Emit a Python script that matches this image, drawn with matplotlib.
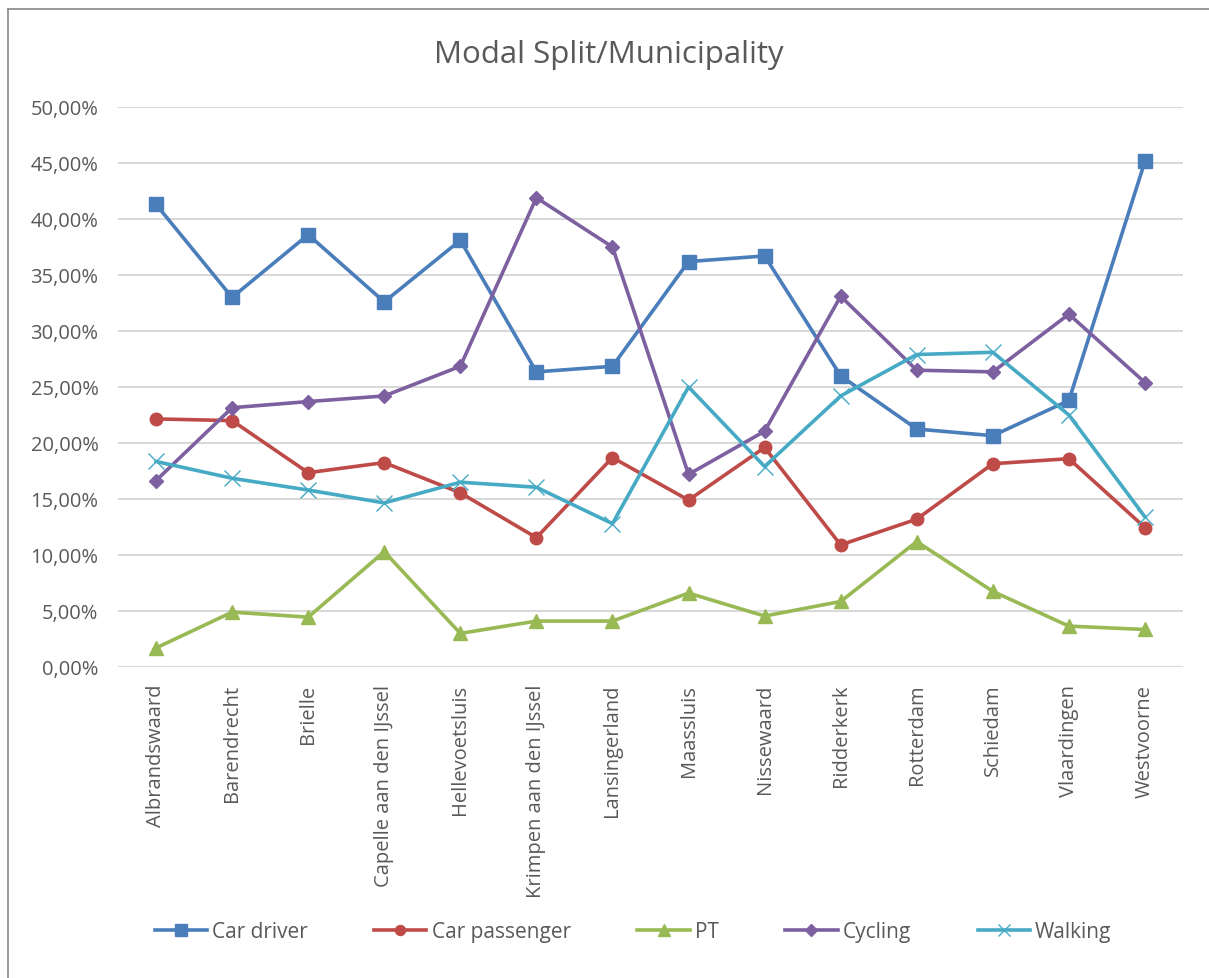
import numpy as np
import matplotlib.pyplot as plt
from matplotlib.lines import Line2D

# data (percent)
municipalities = ['Albrandswaard', 'Barendrecht', 'Brielle', 'Capelle aan den IJssel',
                  'Hellevoetsluis', 'Krimpen aan den IJssel', 'Lansingerland', 'Maassluis',
                  'Nissewaard', 'Ridderkerk', 'Rotterdam', 'Schiedam', 'Vlaardingen', 'Westvoorne']

carDriver = [41.3, 33.0, 38.6, 32.6, 38.1, 26.35, 26.85, 36.2, 36.7, 26.0, 21.25, 20.65, 23.8, 45.15]
carPassenger = [22.15, 22.0, 17.35, 18.25, 15.55, 11.55, 18.7, 14.9, 19.6, 10.9, 13.2, 18.15, 18.6, 12.45]
pt = [1.7, 4.9, 4.45, 10.3, 3.0, 4.1, 4.1, 6.6, 4.55, 5.85, 11.2, 6.75, 3.65, 3.35]
cycling = [16.65, 23.15, 23.7, 24.2, 26.85, 41.9, 37.5, 17.2, 21.05, 33.1, 26.5, 26.35, 31.5, 25.4]
walking = [18.35, 16.85, 15.8, 14.65, 16.5, 16.05, 12.8, 25.0, 17.9, 24.2, 27.9, 28.1, 22.5, 13.4]

yTicks = np.arange(0, 50.1, 5)
yTickLabels = ['%.2f%%' % v for v in yTicks]
yTickLabels = [s.replace('.', ',') for s in yTickLabels]

plt.rcParams['font.family'] = ['Open Sans', 'DejaVu Sans']
txtColor = '#595959'

fig = plt.figure(figsize=(12.09, 9.79), dpi=100)
ax = fig.add_axes([118/1209, 1-668/979, (1183-118)/1209, (668-108)/979])

x = np.arange(len(municipalities))
series = [
    ('Car driver', carDriver, '#4A7EBB', 's', 10, None),
    ('Car passenger', carPassenger, '#BE4B48', 'o', 9, None),
    ('PT', pt, '#98B954', '^', 10, None),
    ('Cycling', cycling, '#7D60A0', 'D', 7.5, None),
    ('Walking', walking, '#46AAC5', 'x', 11, 1.0),
]
handles = []
for name, vals, col, mk, ms, mew in series:
    kw = dict(color=col, linewidth=2.6, marker=mk, markersize=ms, label=name,
              markerfacecolor=col, markeredgecolor=col, zorder=3)
    if mew is not None:
        kw['markeredgewidth'] = mew
    ax.plot(x, vals, **kw)
    # smaller markers in the legend
    lkw = dict(kw)
    lkw['markersize'] = ms*0.8
    handles.append(Line2D([], [], **lkw))

ax.set_xlim(-0.5, len(municipalities)-0.5)
ax.set_ylim(0, 50)
ax.set_yticks(yTicks)
ax.set_yticklabels(yTickLabels)
ax.set_xticks(x)
ax.set_xticklabels(municipalities, rotation=90, va='top', ha='center')
ax.tick_params(axis='both', length=0, labelsize=14.5, colors=txtColor)
ax.tick_params(axis='x', pad=12)
ax.tick_params(axis='y', pad=14)
ax.grid(axis='y', color='#D9D9D9', linewidth=1.5, zorder=0)
ax.set_axisbelow(True)
for s in ax.spines.values():
    s.set_visible(False)

fig.text(609/1209, 1-55/979, 'Modal Split/Municipality', ha='center', va='center',
         fontsize=22.5, color=txtColor)

leg = fig.legend(handles=handles, loc='center', bbox_to_anchor=(633/1209, 1-933/979),
                 ncol=5, frameon=False, handlelength=2.5, handletextpad=0.25,
                 columnspacing=3.2, labelcolor=txtColor,
                 prop={'family': ['Open Sans'], 'size': 15})

# border of the chart area (only top and left visible in the crop)
fig.add_artist(Line2D([8/1209, 8/1209], [0, 1-10/979], color='#888888', linewidth=1.2))
fig.add_artist(Line2D([8/1209, 1], [1-10/979, 1-10/979], color='#888888', linewidth=1.2))

fig.savefig('out.png', dpi=100)
